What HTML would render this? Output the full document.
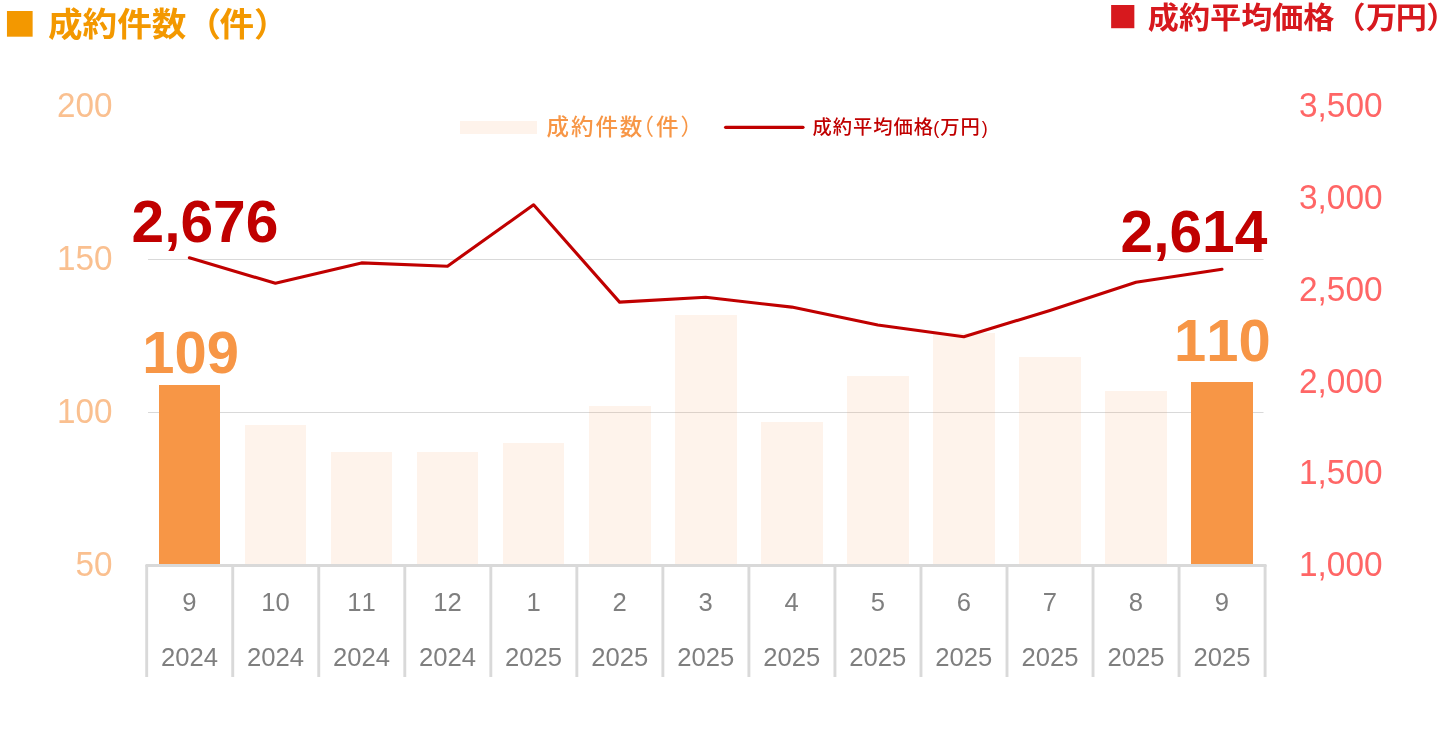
<!DOCTYPE html>
<html lang="ja">
<head>
<meta charset="utf-8">
<title>成約件数・成約平均価格</title>
<style>
html,body{margin:0;padding:0;background:#fff;}
body{width:1440px;height:738px;overflow:hidden;font-family:"Liberation Sans","Noto Sans CJK JP",sans-serif;}
svg{display:block;}
text{font-family:"Liberation Sans","Noto Sans CJK JP",sans-serif;font-kerning:none;}
.jp{font-family:"Liberation Sans","Noto Sans CJK JP",sans-serif;}
.sq{font-family:"Noto Sans CJK JP","Liberation Sans",sans-serif;}
.b{font-weight:bold;}
</style>
</head>
<body>
<svg width="1440" height="738" viewBox="0 0 1440 738">
<rect x="0" y="0" width="1440" height="738" fill="#ffffff"/>
<g fill="#d9d9d9">
<rect x="148" y="412.0" width="1115.5" height="1"/>
<rect x="148" y="259.0" width="1115.5" height="1"/>
</g>
<g>
<rect x="159" y="385" width="61" height="180" fill="#f79646"/>
<rect x="245" y="425" width="61" height="140" fill="#f79646" fill-opacity="0.11"/>
<rect x="331" y="452" width="61" height="113" fill="#f79646" fill-opacity="0.11"/>
<rect x="417" y="452" width="61" height="113" fill="#f79646" fill-opacity="0.11"/>
<rect x="503" y="443" width="61" height="122" fill="#f79646" fill-opacity="0.11"/>
<rect x="589" y="406" width="62" height="159" fill="#f79646" fill-opacity="0.11"/>
<rect x="675" y="315" width="62" height="250" fill="#f79646" fill-opacity="0.11"/>
<rect x="761" y="422" width="62" height="143" fill="#f79646" fill-opacity="0.11"/>
<rect x="847" y="376" width="62" height="189" fill="#f79646" fill-opacity="0.11"/>
<rect x="933" y="333" width="62" height="232" fill="#f79646" fill-opacity="0.11"/>
<rect x="1019" y="357" width="62" height="208" fill="#f79646" fill-opacity="0.11"/>
<rect x="1105" y="391" width="62" height="174" fill="#f79646" fill-opacity="0.11"/>
<rect x="1191" y="382" width="62" height="183" fill="#f79646"/>
</g>
<g fill="#d9d9d9">
<rect x="145.3" y="564" width="1121.3" height="3" rx="1"/>
<rect x="145.25" y="565" width="2.9" height="112"/>
<rect x="231.28" y="565" width="2.9" height="112"/>
<rect x="317.31" y="565" width="2.9" height="112"/>
<rect x="403.34" y="565" width="2.9" height="112"/>
<rect x="489.37" y="565" width="2.9" height="112"/>
<rect x="575.40" y="565" width="2.9" height="112"/>
<rect x="661.43" y="565" width="2.9" height="112"/>
<rect x="747.46" y="565" width="2.9" height="112"/>
<rect x="833.49" y="565" width="2.9" height="112"/>
<rect x="919.52" y="565" width="2.9" height="112"/>
<rect x="1005.55" y="565" width="2.9" height="112"/>
<rect x="1091.58" y="565" width="2.9" height="112"/>
<rect x="1177.61" y="565" width="2.9" height="112"/>
<rect x="1263.64" y="565" width="2.9" height="112"/>
</g>
<polyline points="189.4,257.8 275.4,283.3 361.5,262.9 447.5,266.2 533.6,204.8 619.6,302.1 705.7,297.3 791.8,307.1 877.8,325.0 963.8,336.8 1049.9,310.5 1136.0,282.2 1222.0,269.2" fill="none" stroke="#c00000" stroke-width="3.1" stroke-linejoin="round" stroke-linecap="round"/>
<g>
<text transform="translate(189.40 611.20) scale(0.9750 1.0000)" font-size="26.3" text-anchor="middle" fill="#7f7f7f">9</text>
<text transform="translate(189.40 666.30) scale(0.9750 1.0000)" font-size="26.3" text-anchor="middle" fill="#7f7f7f">2024</text>
<text transform="translate(275.45 611.20) scale(0.9750 1.0000)" font-size="26.3" text-anchor="middle" fill="#7f7f7f">10</text>
<text transform="translate(275.45 666.30) scale(0.9750 1.0000)" font-size="26.3" text-anchor="middle" fill="#7f7f7f">2024</text>
<text transform="translate(361.50 611.20) scale(0.9750 1.0000)" font-size="26.3" text-anchor="middle" fill="#7f7f7f">11</text>
<text transform="translate(361.50 666.30) scale(0.9750 1.0000)" font-size="26.3" text-anchor="middle" fill="#7f7f7f">2024</text>
<text transform="translate(447.55 611.20) scale(0.9750 1.0000)" font-size="26.3" text-anchor="middle" fill="#7f7f7f">12</text>
<text transform="translate(447.55 666.30) scale(0.9750 1.0000)" font-size="26.3" text-anchor="middle" fill="#7f7f7f">2024</text>
<text transform="translate(533.60 611.20) scale(0.9750 1.0000)" font-size="26.3" text-anchor="middle" fill="#7f7f7f">1</text>
<text transform="translate(533.60 666.30) scale(0.9750 1.0000)" font-size="26.3" text-anchor="middle" fill="#7f7f7f">2025</text>
<text transform="translate(619.65 611.20) scale(0.9750 1.0000)" font-size="26.3" text-anchor="middle" fill="#7f7f7f">2</text>
<text transform="translate(619.65 666.30) scale(0.9750 1.0000)" font-size="26.3" text-anchor="middle" fill="#7f7f7f">2025</text>
<text transform="translate(705.70 611.20) scale(0.9750 1.0000)" font-size="26.3" text-anchor="middle" fill="#7f7f7f">3</text>
<text transform="translate(705.70 666.30) scale(0.9750 1.0000)" font-size="26.3" text-anchor="middle" fill="#7f7f7f">2025</text>
<text transform="translate(791.75 611.20) scale(0.9750 1.0000)" font-size="26.3" text-anchor="middle" fill="#7f7f7f">4</text>
<text transform="translate(791.75 666.30) scale(0.9750 1.0000)" font-size="26.3" text-anchor="middle" fill="#7f7f7f">2025</text>
<text transform="translate(877.80 611.20) scale(0.9750 1.0000)" font-size="26.3" text-anchor="middle" fill="#7f7f7f">5</text>
<text transform="translate(877.80 666.30) scale(0.9750 1.0000)" font-size="26.3" text-anchor="middle" fill="#7f7f7f">2025</text>
<text transform="translate(963.85 611.20) scale(0.9750 1.0000)" font-size="26.3" text-anchor="middle" fill="#7f7f7f">6</text>
<text transform="translate(963.85 666.30) scale(0.9750 1.0000)" font-size="26.3" text-anchor="middle" fill="#7f7f7f">2025</text>
<text transform="translate(1049.90 611.20) scale(0.9750 1.0000)" font-size="26.3" text-anchor="middle" fill="#7f7f7f">7</text>
<text transform="translate(1049.90 666.30) scale(0.9750 1.0000)" font-size="26.3" text-anchor="middle" fill="#7f7f7f">2025</text>
<text transform="translate(1135.95 611.20) scale(0.9750 1.0000)" font-size="26.3" text-anchor="middle" fill="#7f7f7f">8</text>
<text transform="translate(1135.95 666.30) scale(0.9750 1.0000)" font-size="26.3" text-anchor="middle" fill="#7f7f7f">2025</text>
<text transform="translate(1222.00 611.20) scale(0.9750 1.0000)" font-size="26.3" text-anchor="middle" fill="#7f7f7f">9</text>
<text transform="translate(1222.00 666.30) scale(0.9750 1.0000)" font-size="26.3" text-anchor="middle" fill="#7f7f7f">2025</text>
</g>
<g>
<text transform="translate(112.50 576.40) scale(0.9700 1.0000)" font-size="34.3" text-anchor="end" fill="#fac090">50</text>
<text transform="translate(112.50 423.40) scale(0.9700 1.0000)" font-size="34.3" text-anchor="end" fill="#fac090">100</text>
<text transform="translate(112.50 270.40) scale(0.9700 1.0000)" font-size="34.3" text-anchor="end" fill="#fac090">150</text>
<text transform="translate(112.50 117.40) scale(0.9700 1.0000)" font-size="34.3" text-anchor="end" fill="#fac090">200</text>
</g>
<g>
<text transform="translate(1299.00 576.20) scale(0.9650 1.0000)" font-size="34.6" fill="#ff6666">1,000</text>
<text transform="translate(1299.00 484.40) scale(0.9650 1.0000)" font-size="34.6" fill="#ff6666">1,500</text>
<text transform="translate(1299.00 392.60) scale(0.9650 1.0000)" font-size="34.6" fill="#ff6666">2,000</text>
<text transform="translate(1299.00 300.80) scale(0.9650 1.0000)" font-size="34.6" fill="#ff6666">2,500</text>
<text transform="translate(1299.00 209.00) scale(0.9650 1.0000)" font-size="34.6" fill="#ff6666">3,000</text>
<text transform="translate(1299.00 117.20) scale(0.9650 1.0000)" font-size="34.6" fill="#ff6666">3,500</text>
</g>
<text class="b" transform="translate(131.50 241.70) scale(0.9780 1.0000)" font-size="60" fill="#c00000">2,676</text>
<text class="b" transform="translate(142.30 372.70) scale(0.9650 1.0000)" font-size="60" fill="#f79646">109</text>
<text class="b" transform="translate(1120.50 251.70) scale(0.9780 1.0000)" font-size="60" fill="#c00000">2,614</text>
<text class="b" transform="translate(1174.00 360.70) scale(0.9650 1.0000)" font-size="60" fill="#f79646">110</text>
<rect x="460" y="121" width="77" height="13" fill="#f79646" fill-opacity="0.11"/>
<text class="jp" font-size="22.5" fill="#f79646" font-weight="500" letter-spacing="1.9"><tspan x="546.6" y="134.7">成約件数</tspan><tspan x="631.5" y="134.7" font-weight="400">（</tspan><tspan x="655.9" y="134.7">件</tspan><tspan x="680.5" y="134.7" font-weight="400">）</tspan></text>
<rect x="724" y="125.7" width="80.6" height="3.2" rx="1.6" fill="#c00000"/>
<text class="jp" font-size="19.3" fill="#c00000" font-weight="500" letter-spacing="0.95"><tspan x="812.5" y="134.0">成約平均価格</tspan><tspan x="933.2" y="134.0" letter-spacing="0" font-size="18">(</tspan><tspan x="940.2" y="134.0">万円</tspan><tspan x="981.8" y="134.0" letter-spacing="0" font-size="18">)</tspan></text>
<text class="sq b" transform="translate(3.80 35.50) scale(1.0000 1.0000)" font-size="32.1" fill="#f39800">■</text>
<text class="jp b" transform="translate(48.00 35.80) scale(1.0000 0.9550)" font-size="34.6" fill="#f39800">成約件数（<tspan dx="-1.4">件</tspan><tspan dx="-0.2">）</tspan></text>
<text class="sq b" transform="translate(1108.20 28.10) scale(1.0000 1.0000)" font-size="29" fill="#d7191e">■</text>
<text class="jp b" transform="translate(1147.80 27.95) scale(1.0040 0.9550)" font-size="31" fill="#d7191e">成約平均価格（<tspan dx="0.4">万</tspan><tspan dx="-1.4">円</tspan><tspan dx="-0.5">）</tspan></text>
</svg>
</body>
</html>
